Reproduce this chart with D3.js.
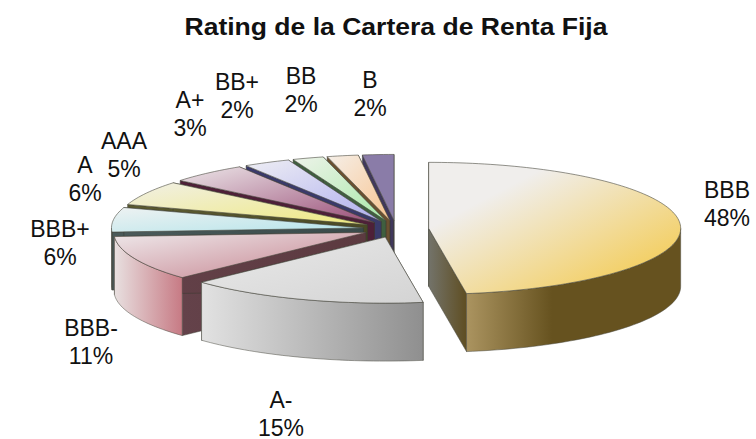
<!DOCTYPE html>
<html>
<head>
<meta charset="utf-8">
<script src="https://cdn.jsdelivr.net/npm/d3@7"></script>
<style>
  html, body { margin: 0; padding: 0; background: #fff; }
  svg { display: block; }
  text { font-family: "Liberation Sans", Arial, sans-serif; fill: #111; }
</style>
</head>
<body>
<div id="chart"></div>
<script>
// rating categories and their share, clockwise from 12 o'clock
var categories = ['BBB', 'A-', 'BBB-', 'BBB+', 'A', 'AAA', 'A+', 'BB+', 'BB', 'B'];
var shares = [47.6, 15.4, 11, 6, 6, 5, 3, 2, 2, 2];   // labels show these rounded

var width = 756,
    height = 439;

// fake 3d pie: ellipse radii, wall height, how far slices are pulled out
var cx = 396, cy = 229, rx = 252, ry = 66, depth = 58, explode = 0.13;

// colours: top light/strong, wall light/dark, cut face
var topLight = ['#f0eeec', '#e9e9e9', '#eee8ea', '#eef2f2', '#f1f0e6', '#ece6e8', '#eeeef4', '#eef3ea', '#f5efe8', '#8a7ca8'];
var topStrong = ['#f4c63c', '#d4d4d4', '#c4808c', '#b4e4ea', '#efe97e', '#9a4e78', '#aeaeee', '#a8e8a8', '#f8c490', '#8a7ca8'];
var topLightStop = [25, 0, 0, 0, 0, 0, 0, 0, 0, 0];
var wallLight = ['#ab9460', '#e2e2e2', '#e8e0e0', '#58605f', '#5d5c30', '#4e2a3c', '#55557a', '#557055', '#7a6248', '#4e4668'];
var wallDark = ['#66521f', '#8f8f8f', '#c77a84', '#3c4a4c', '#4d4c24', '#4e2a3c', '#55557a', '#557055', '#7a6248', '#4e4668'];
var wallMidStop = [40, 100, 100, 100, 100, 100, 100, 100, 100, 100];
var cutLight = ['#73736a', '#777777', '#64424a', '#4a5a5a', '#5a5930', '#4e2038', '#3a3a6a', '#3f5f3f', '#6a5030', '#40385c'];
var cutDark = ['#5f4e22', '#777777', '#5c3a40', '#3a4a4a', '#4a4924', '#4e2038', '#3a3a6a', '#3f5f3f', '#6a5030', '#40385c'];

// where each two line label sits
var labelX = [727, 281, 91, 60, 85, 124, 190, 237, 301, 370];
var labelY = [198, 408, 336, 237, 173, 149, 108, 90, 84, 88];

var svg = d3.select("#chart").append("svg")
    .attr("width", width)
    .attr("height", height);

var defs = svg.append("defs");

var pie = d3.pie().sort(null).value(function(d) { return d; });
var arcs = pie(shares);

function gradient(id, c1, c2, horizontal, startAt, stopAt) {
    var g = defs.append("linearGradient").attr("id", id)
        .attr("x1", 0).attr("y1", 0)
        .attr("x2", 1).attr("y2", horizontal ? 0 : 1);
    g.append("stop").attr("offset", (startAt || 0) + "%").attr("stop-color", c1);
    g.append("stop").attr("offset", (stopAt || 100) + "%").attr("stop-color", c2);
}

// angle in radians, clockwise from top, flattened onto the ellipse
function pt(ox, oy, a, drop) {
    return [ox + rx * Math.sin(a), oy - ry * Math.cos(a) + (drop || 0)];
}

function arcPoints(ox, oy, a0, a1, drop) {
    var n = Math.max(2, Math.ceil((a1 - a0) * 40));
    return d3.range(n + 1).map(function(i) {
        return pt(ox, oy, a0 + (a1 - a0) * i / n, drop);
    });
}

var line = d3.line();

var slices = arcs.map(function(d, i) {
    var mid = (d.startAngle + d.endAngle) / 2;
    return {
        i: i,
        a0: d.startAngle,
        a1: d.endAngle,
        ox: cx + explode * rx * Math.sin(mid),
        oy: cy - explode * ry * Math.cos(mid)
    };
});

// painter's order: back slices first, the pulled out front ones last
var order = slices.slice().sort(function(a, b) {
    return (a.oy - b.oy) || (a.i - b.i);
});

var g = svg.append("g");

order.forEach(function(s) {
    var i = s.i;
    gradient("top" + i, topLight[i], topStrong[i], false, topLightStop[i]);
    gradient("wall" + i, wallLight[i], wallDark[i], true, 0, wallMidStop[i]);
    gradient("cut" + i, cutLight[i], cutDark[i], true);

    var group = g.append("g");

    // the two cut faces
    [s.a0, s.a1].forEach(function(a) {
        var p = pt(s.ox, s.oy, a);
        group.append("path")
            .attr("d", line([[s.ox, s.oy], p, [p[0], p[1] + depth], [s.ox, s.oy + depth]]) + "Z")
            .attr("fill", "url(#cut" + i + ")")
            .attr("stroke", "#3a3a30")
            .attr("stroke-width", 0.5);
    });

    // outer wall, only the part facing us
    var w0 = Math.max(s.a0, Math.PI / 2),
        w1 = Math.min(s.a1, 3 * Math.PI / 2);
    if (w1 > w0) {
        var up = arcPoints(s.ox, s.oy, w0, w1);
        var down = arcPoints(s.ox, s.oy, w0, w1, depth).reverse();
        group.append("path")
            .attr("d", line(up.concat(down)) + "Z")
            .attr("fill", "url(#wall" + (i) + ")")
            .attr("stroke", "#4a4a40")
            .attr("stroke-width", 0.5);
    }

    // top face
    group.append("path")
        .attr("d", line([[s.ox, s.oy]].concat(arcPoints(s.ox, s.oy, s.a0, s.a1))) + "Z")
        .attr("fill", "url(#top" + i + ")")
        .attr("stroke", "#4a4a40")
        .attr("stroke-width", 0.6);
});

// title, stretched a bit wider than the plain font
svg.append("text")
    .attr("x", 396)
    .attr("y", 35)
    .attr("text-anchor", "middle")
    .attr("font-size", 23)
    .attr("font-weight", "bold")
    .attr("textLength", 423)
    .attr("lengthAdjust", "spacingAndGlyphs")
    .text("Rating de la Cartera de Renta Fija");

// labels
categories.forEach(function(c, i) {
    var t = svg.append("text")
        .attr("text-anchor", "middle")
        .attr("font-size", 23);
    t.append("tspan").attr("x", labelX[i]).attr("y", labelY[i]).text(c);
    t.append("tspan").attr("x", labelX[i]).attr("y", labelY[i] + 27.5).text(Math.round(shares[i]) + "%");
});
</script>
</body>
</html>
